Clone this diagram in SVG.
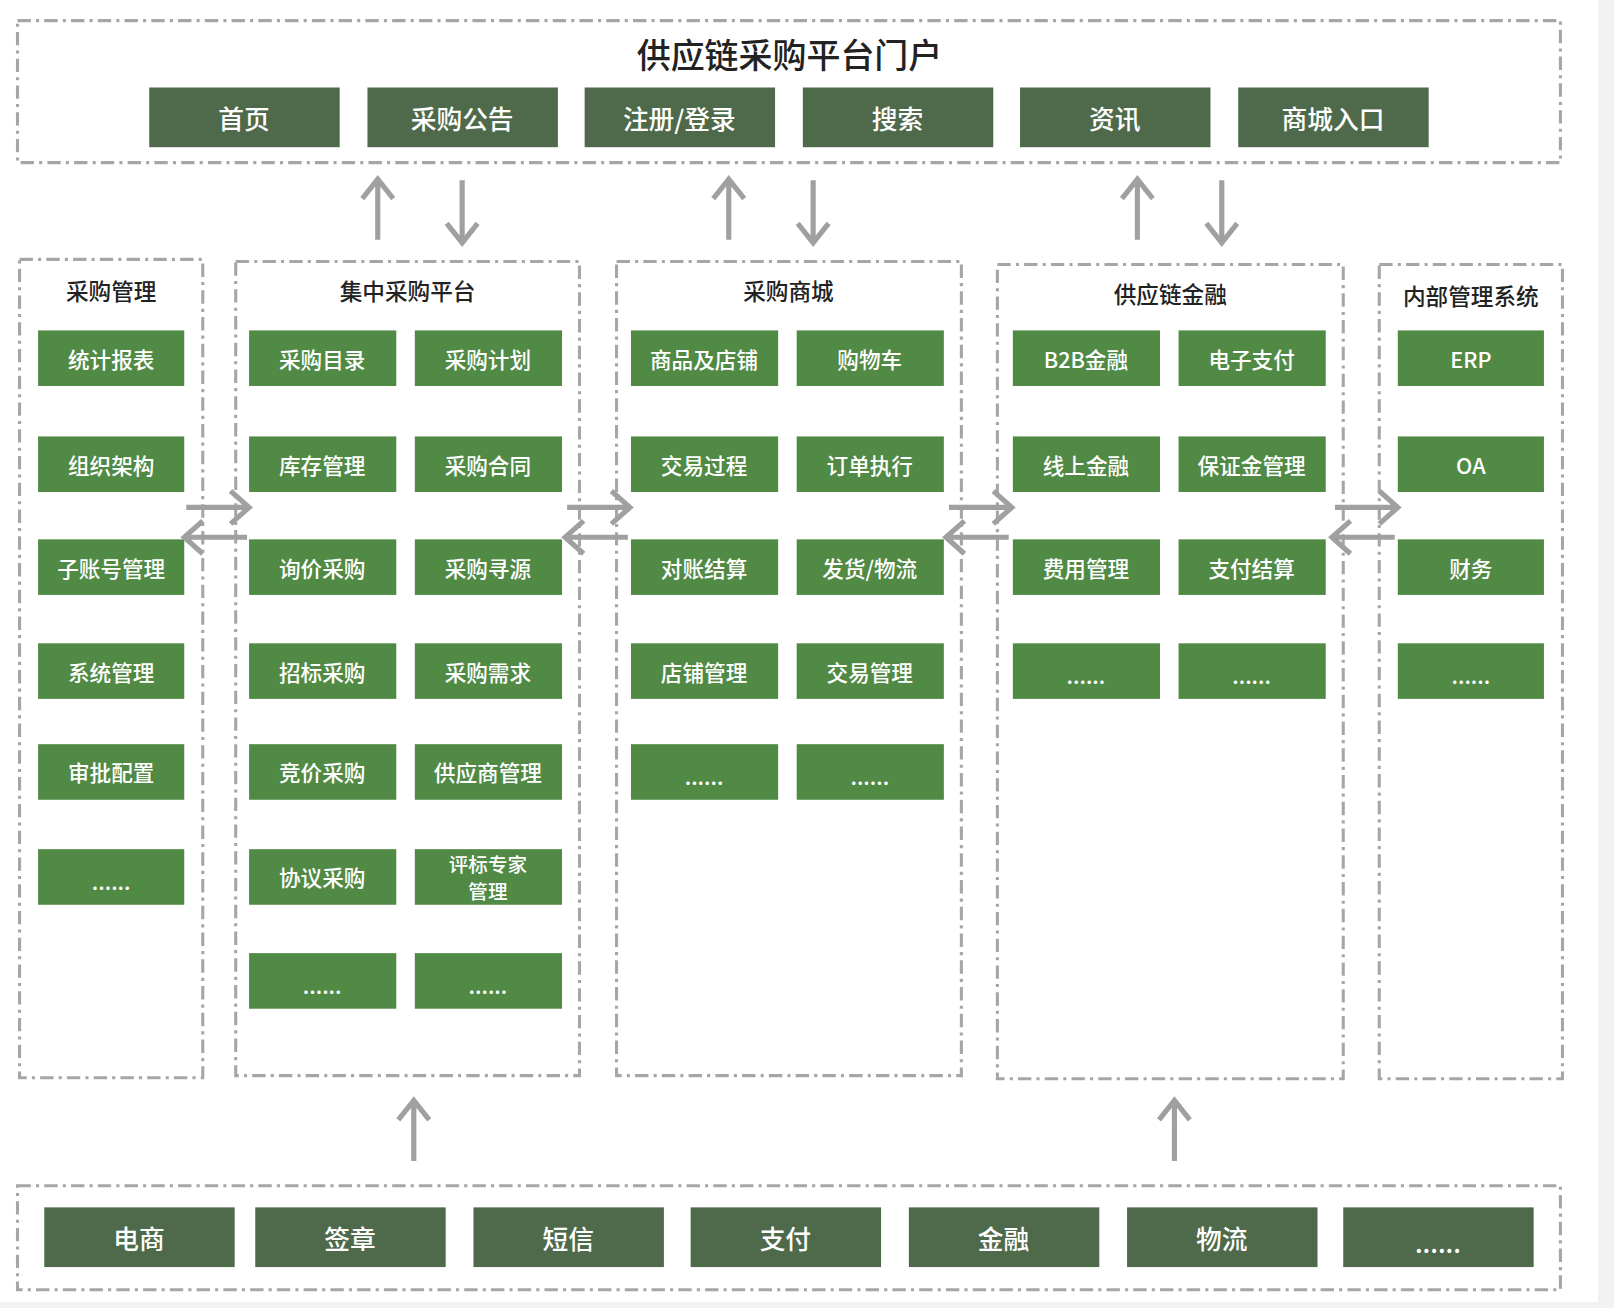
<svg xmlns="http://www.w3.org/2000/svg" width="1614" height="1308" viewBox="0 0 1614 1308">
<style>
.frame{fill:none;stroke:#a6a6a6;stroke-width:3;stroke-dasharray:13 5 3 5}
.dk{fill:#4e6a4a}
.gr{fill:#518a45}
.t{font-family:"Noto Sans CJK SC","Liberation Sans",sans-serif;fill:#fff;text-anchor:middle;dominant-baseline:central;font-weight:500}
.tb{font-size:25px}
.tg{font-size:21px}
.ts{font-size:19px}
.h{font-family:"Noto Sans CJK SC","Liberation Sans",sans-serif;fill:#222;text-anchor:middle;dominant-baseline:central;font-size:22px;font-weight:500}
.ar{fill:none;stroke:#a0a0a0;stroke-width:5}
</style>
<rect width="1614" height="1308" fill="#fff"/>
<rect x="1598" y="0" width="16" height="1308" fill="#f2f2f2"/>
<rect x="0" y="1302" width="1614" height="6" fill="#f2f2f2"/>
<g transform="scale(1.0293)">
<g id="portal">
<rect class="frame" x="17" y="20" width="1499" height="138"/>
<text class="h" x="767" y="52" style="font-size:33px">供应链采购平台门户</text>
</g>
<g id="p1"><rect class="dk" x="145" y="85" width="185" height="58"/><text class="t tb" x="237" y="114">首页</text></g>
<g id="p2"><rect class="dk" x="357" y="85" width="185" height="58"/><text class="t tb" x="449" y="114">采购公告</text></g>
<g id="p3"><rect class="dk" x="568" y="85" width="185" height="58"/><text class="t tb" x="660" y="114">注册/登录</text></g>
<g id="p4"><rect class="dk" x="780" y="85" width="185" height="58"/><text class="t tb" x="872" y="114">搜索</text></g>
<g id="p5"><rect class="dk" x="991" y="85" width="185" height="58"/><text class="t tb" x="1083" y="114">资讯</text></g>
<g id="p6"><rect class="dk" x="1203" y="85" width="185" height="58"/><text class="t tb" x="1295" y="114">商城入口</text></g>

<g id="col1"><rect class="frame" x="19" y="252" width="178" height="795"/><text class="h" x="108" y="282">采购管理</text></g>
<g id="col2"><rect class="frame" x="229" y="254" width="334" height="791"/><text class="h" x="396" y="282">集中采购平台</text></g>
<g id="col3"><rect class="frame" x="599" y="254" width="335" height="791"/><text class="h" x="766" y="282">采购商城</text></g>
<g id="col4"><rect class="frame" x="969" y="257" width="336" height="791"/><text class="h" x="1137" y="285">供应链金融</text></g>
<g id="col5"><rect class="frame" x="1340" y="257" width="178" height="791"/><text class="h" x="1429" y="287">内部管理系统</text></g>

<g id="a1"><rect class="gr" x="37" y="321" width="142" height="54"/><text class="t tg" x="108" y="348">统计报表</text></g>
<g id="a2"><rect class="gr" x="37" y="424" width="142" height="54"/><text class="t tg" x="108" y="451">组织架构</text></g>
<g id="a3"><rect class="gr" x="37" y="524" width="142" height="54"/><text class="t tg" x="108" y="551">子账号管理</text></g>
<g id="a4"><rect class="gr" x="37" y="625" width="142" height="54"/><text class="t tg" x="108" y="652">系统管理</text></g>
<g id="a5"><rect class="gr" x="37" y="723" width="142" height="54"/><text class="t tg" x="108" y="750">审批配置</text></g>
<g id="a6"><rect class="gr" x="37" y="825" width="142" height="54"/><text class="t tg" x="108" y="855">......</text></g>

<g id="b1"><rect class="gr" x="242" y="321" width="143" height="54"/><text class="t tg" x="313" y="348">采购目录</text></g>
<g id="b2"><rect class="gr" x="403" y="321" width="143" height="54"/><text class="t tg" x="474" y="348">采购计划</text></g>
<g id="b3"><rect class="gr" x="242" y="424" width="143" height="54"/><text class="t tg" x="313" y="451">库存管理</text></g>
<g id="b4"><rect class="gr" x="403" y="424" width="143" height="54"/><text class="t tg" x="474" y="451">采购合同</text></g>
<g id="b5"><rect class="gr" x="242" y="524" width="143" height="54"/><text class="t tg" x="313" y="551">询价采购</text></g>
<g id="b6"><rect class="gr" x="403" y="524" width="143" height="54"/><text class="t tg" x="474" y="551">采购寻源</text></g>
<g id="b7"><rect class="gr" x="242" y="625" width="143" height="54"/><text class="t tg" x="313" y="652">招标采购</text></g>
<g id="b8"><rect class="gr" x="403" y="625" width="143" height="54"/><text class="t tg" x="474" y="652">采购需求</text></g>
<g id="b9"><rect class="gr" x="242" y="723" width="143" height="54"/><text class="t tg" x="313" y="750">竞价采购</text></g>
<g id="b10"><rect class="gr" x="403" y="723" width="143" height="54"/><text class="t tg" x="474" y="750">供应商管理</text></g>
<g id="b11"><rect class="gr" x="242" y="825" width="143" height="54"/><text class="t tg" x="313" y="852">协议采购</text></g>
<g id="b12"><rect class="gr" x="403" y="825" width="143" height="54"/><text class="t ts" x="474" y="839">评标专家</text><text class="t ts" x="474" y="865">管理</text></g>
<g id="b13"><rect class="gr" x="242" y="926" width="143" height="54"/><text class="t tg" x="313" y="956">......</text></g>
<g id="b14"><rect class="gr" x="403" y="926" width="143" height="54"/><text class="t tg" x="474" y="956">......</text></g>

<g id="c1"><rect class="gr" x="613" y="321" width="143" height="54"/><text class="t tg" x="684" y="348">商品及店铺</text></g>
<g id="c2"><rect class="gr" x="774" y="321" width="143" height="54"/><text class="t tg" x="845" y="348">购物车</text></g>
<g id="c3"><rect class="gr" x="613" y="424" width="143" height="54"/><text class="t tg" x="684" y="451">交易过程</text></g>
<g id="c4"><rect class="gr" x="774" y="424" width="143" height="54"/><text class="t tg" x="845" y="451">订单执行</text></g>
<g id="c5"><rect class="gr" x="613" y="524" width="143" height="54"/><text class="t tg" x="684" y="551">对账结算</text></g>
<g id="c6"><rect class="gr" x="774" y="524" width="143" height="54"/><text class="t tg" x="845" y="551">发货/物流</text></g>
<g id="c7"><rect class="gr" x="613" y="625" width="143" height="54"/><text class="t tg" x="684" y="652">店铺管理</text></g>
<g id="c8"><rect class="gr" x="774" y="625" width="143" height="54"/><text class="t tg" x="845" y="652">交易管理</text></g>
<g id="c9"><rect class="gr" x="613" y="723" width="143" height="54"/><text class="t tg" x="684" y="753">......</text></g>
<g id="c10"><rect class="gr" x="774" y="723" width="143" height="54"/><text class="t tg" x="845" y="753">......</text></g>

<g id="d1"><rect class="gr" x="984" y="321" width="143" height="54"/><text class="t tg" x="1055" y="348">B2B金融</text></g>
<g id="d2"><rect class="gr" x="1145" y="321" width="143" height="54"/><text class="t tg" x="1216" y="348">电子支付</text></g>
<g id="d3"><rect class="gr" x="984" y="424" width="143" height="54"/><text class="t tg" x="1055" y="451">线上金融</text></g>
<g id="d4"><rect class="gr" x="1145" y="424" width="143" height="54"/><text class="t tg" x="1216" y="451">保证金管理</text></g>
<g id="d5"><rect class="gr" x="984" y="524" width="143" height="54"/><text class="t tg" x="1055" y="551">费用管理</text></g>
<g id="d6"><rect class="gr" x="1145" y="524" width="143" height="54"/><text class="t tg" x="1216" y="551">支付结算</text></g>
<g id="d7"><rect class="gr" x="984" y="625" width="143" height="54"/><text class="t tg" x="1055" y="655">......</text></g>
<g id="d8"><rect class="gr" x="1145" y="625" width="143" height="54"/><text class="t tg" x="1216" y="655">......</text></g>

<g id="e1"><rect class="gr" x="1358" y="321" width="142" height="54"/><text class="t tg" x="1429" y="348">ERP</text></g>
<g id="e2"><rect class="gr" x="1358" y="424" width="142" height="54"/><text class="t tg" x="1429" y="451">OA</text></g>
<g id="e3"><rect class="gr" x="1358" y="524" width="142" height="54"/><text class="t tg" x="1429" y="551">财务</text></g>
<g id="e4"><rect class="gr" x="1358" y="625" width="142" height="54"/><text class="t tg" x="1429" y="655">......</text></g>

<g id="base"><rect class="frame" x="17" y="1152" width="1499" height="101"/></g>
<g id="f1"><rect class="dk" x="43" y="1173" width="185" height="58"/><text class="t tb" x="135" y="1202">电商</text></g>
<g id="f2"><rect class="dk" x="248" y="1173" width="185" height="58"/><text class="t tb" x="340" y="1202">签章</text></g>
<g id="f3"><rect class="dk" x="460" y="1173" width="185" height="58"/><text class="t tb" x="552" y="1202">短信</text></g>
<g id="f4"><rect class="dk" x="671" y="1173" width="185" height="58"/><text class="t tb" x="763" y="1202">支付</text></g>
<g id="f5"><rect class="dk" x="883" y="1173" width="185" height="58"/><text class="t tb" x="975" y="1202">金融</text></g>
<g id="f6"><rect class="dk" x="1095" y="1173" width="185" height="58"/><text class="t tb" x="1187" y="1202">物流</text></g>
<g id="f7"><rect class="dk" x="1305" y="1173" width="185" height="58"/><text class="t tb" x="1397" y="1206">......</text></g>

<g id="connectors">
<path class="ar" d="M367 233V174M352 193L367 174L382 193"/>
<path class="ar" d="M449 175V236M434 217L449 236L464 217"/>
<path class="ar" d="M708 233V174M693 193L708 174L723 193"/>
<path class="ar" d="M790 175V236M775 217L790 236L805 217"/>
<path class="ar" d="M1105 233V174M1090 193L1105 174L1120 193"/>
<path class="ar" d="M1187 175V236M1172 217L1187 236L1202 217"/>
<path class="ar" d="M402 1128V1069M387 1088L402 1069L417 1088"/>
<path class="ar" d="M1141 1128V1069M1126 1088L1141 1069L1156 1088"/>
<path class="ar" d="M181 493H242M224 477L242 493L224 509"/>
<path class="ar" d="M240 522H179M197 506L179 522L197 538"/>
<path class="ar" d="M551 493H612M594 477L612 493L594 509"/>
<path class="ar" d="M610 522H549M567 506L549 522L567 538"/>
<path class="ar" d="M922 493H983M965 477L983 493L965 509"/>
<path class="ar" d="M980 522H919M937 506L919 522L937 538"/>
<path class="ar" d="M1297 493H1358M1340 477L1358 493L1340 509"/>
<path class="ar" d="M1355 522H1294M1312 506L1294 522L1312 538"/>
</g>
</g>
</svg>
